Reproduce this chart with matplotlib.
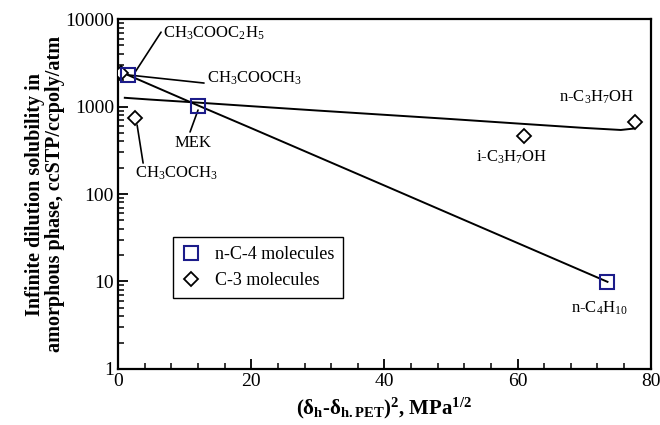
import matplotlib
matplotlib.use('Agg')
import matplotlib.pyplot as plt
from matplotlib.ticker import LogLocator, MultipleLocator, NullFormatter

plt.rcParams['font.family'] = ['Liberation Serif', 'DejaVu Serif']
plt.rcParams['mathtext.fontset'] = 'custom'
plt.rcParams['mathtext.rm'] = 'Liberation Serif'
plt.rcParams['mathtext.it'] = 'Liberation Serif:italic'
plt.rcParams['mathtext.bf'] = 'Liberation Serif:bold'

# n-C-4 molecules (squares)
c4_x = [1.5, 12.0, 73.5]
c4_y = [2290, 1015, 9.9]
# C-3 molecules (diamonds)
c3_x = [0.4, 2.6, 60.9, 77.6]
c3_y = [2400, 740, 460, 665]

# fitted lines
lineA_x = [1.5, 12, 20, 30, 40, 50, 60, 70, 73.5]
lineA_y = [2290, 1030, 566, 266, 125, 58.6, 27.5, 12.9, 9.9]
lineB_x = [1, 5, 12, 20, 30, 40, 50, 60, 70, 75.5, 77.4]
lineB_y = [1260, 1200, 1110, 1010, 900, 805, 720, 640, 570, 540, 560]

# labels: (text, x, y, ha)
labels = [
    ('CH$_3$COOC$_2$H$_5$', 6.75, 6920, 'left'),
    ('CH$_3$COOCH$_3$', 13.4, 2118, 'left'),
    ('MEK', 11.3, 383, 'center'),
    ('CH$_3$COCH$_3$', 2.55, 174, 'left'),
    ('i-C$_3$H$_7$OH', 59.1, 265, 'center'),
    ('n-C$_3$H$_7$OH', 71.9, 1285, 'center'),
    ('n-C$_4$H$_{10}$', 72.3, 4.98, 'center'),
]
# leader lines: (x0, y0, x1, y1)
leaders = [
    (2.55, 2477, 6.45, 7100),
    (1.5, 2300, 12.9, 1858),
    (12.0, 912, 10.8, 512),
    (2.85, 615, 3.75, 226),
]

fig = plt.figure(figsize=(6.6, 4.25), dpi=100)
ax = fig.add_axes([0.179, 0.132, 0.807, 0.823])

ax.plot(lineA_x, lineA_y, color='black', lw=1.4)
ax.plot(lineB_x, lineB_y, color='black', lw=1.4)
ax.plot(c3_x, c3_y, 'D', ms=7, mfc='white', mec='black', mew=1.3, label='C-3 molecules', zorder=3)
ax.plot(c4_x, c4_y, 's', ms=9.5, mfc='none', mec='#1c1c8a', mew=1.5, label='n-C-4 molecules', zorder=4)

for x0, y0, x1, y1 in leaders:
    ax.annotate('', xy=(x0, y0), xytext=(x1, y1),
                arrowprops=dict(arrowstyle='-', lw=1.2, color='black', shrinkA=0, shrinkB=0))
for t, x, y, ha in labels:
    ax.text(x, y, t, ha=ha, va='center', fontsize=12)

ax.set_yscale('log')
ax.set_xlim(0, 80)
ax.set_ylim(1, 10000)
ax.xaxis.set_major_locator(MultipleLocator(20))
ax.xaxis.set_minor_locator(MultipleLocator(4))
ax.yaxis.set_major_locator(LogLocator(base=10, numticks=10))
ax.yaxis.set_minor_locator(LogLocator(base=10, subs=range(2, 10), numticks=10))
ax.yaxis.set_minor_formatter(NullFormatter())
ax.set_yticks([1, 10, 100, 1000, 10000])
ax.set_yticklabels(['1', '10', '100', '1000', '10000'])
ax.tick_params(which='major', direction='in', length=7, width=1.3, labelsize=14, top=False, right=False)
ax.tick_params(which='minor', direction='in', length=4.5, width=1.1, top=False, right=False)
ax.tick_params(axis='x', pad=3)
ax.tick_params(axis='y', pad=3)
for s in ax.spines.values():
    s.set_linewidth(1.6)

ax.set_xlabel(r'$\mathbf{(\delta_h}$-$\mathbf{\delta_{h.PET})^2}$, MPa$^{\mathbf{1/2}}$',
              fontsize=15, fontweight='bold')
ax.set_ylabel('Infinite dilution solubility in\namorphous phase, ccSTP/ccpoly/atm',
              fontsize=14.5, fontweight='bold', linespacing=1.0)
ax.yaxis.set_label_coords(-0.099, 0.5)

h, l = ax.get_legend_handles_labels()
leg = ax.legend(h[::-1], l[::-1], loc='upper left', bbox_to_anchor=(0.103, 0.377),
                fontsize=13, frameon=True, fancybox=False, edgecolor='black',
                framealpha=1, handlelength=1.0, handletextpad=0.8, borderpad=0.5,
                labelspacing=0.5, borderaxespad=0)
leg.get_frame().set_linewidth(1.0)

plt.savefig('out.png', dpi=100)
